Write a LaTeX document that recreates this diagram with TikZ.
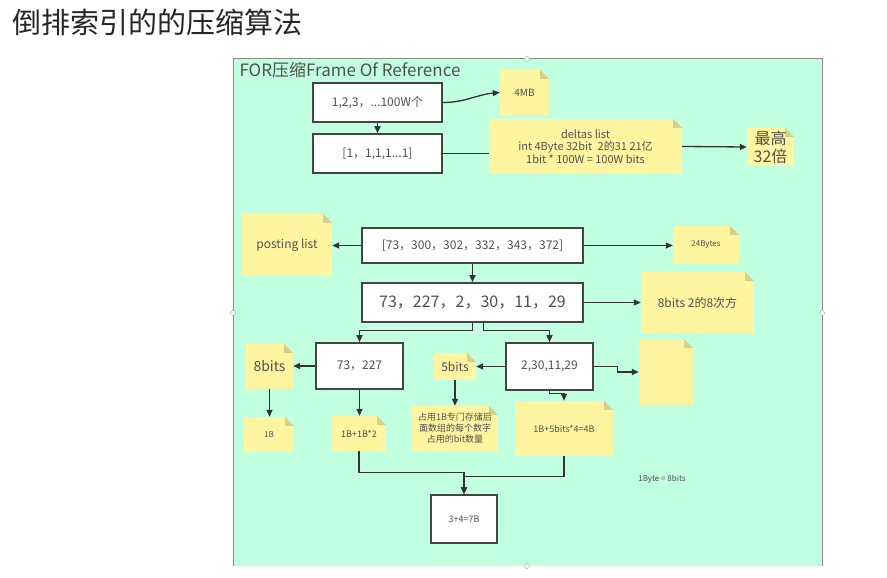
\documentclass[tikz,border=0pt]{standalone}
\usepackage{fontspec}
\setmainfont{Noto Sans CJK SC}
\usetikzlibrary{arrows.meta}

\definecolor{panelbg}{RGB}{192,255,224}
\definecolor{notebg}{RGB}{255,245,160}
\definecolor{notefold}{RGB}{216,207,138}
\definecolor{boxline}{RGB}{68,68,68}
\definecolor{txt}{RGB}{80,80,80}

\tikzset{
  box/.style={draw=boxline, line width=1.6pt, fill=white, inner sep=0pt,
    align=center, text=txt},
  note/.style={fill=notebg, inner sep=0pt, align=center, text=txt,
    path picture={
      \fill[panelbg] (path picture bounding box.north east)
        -- ++(-9pt,0pt) -- ++(9pt,-9pt) -- cycle;
      \fill[notefold] (path picture bounding box.north east)
        ++(-9pt,0pt) -- ++(0pt,-9pt) -- ++(9pt,0pt) -- cycle;
    }},
  arr/.style={draw=black!80, line width=1.3pt,
    -{Triangle[length=7pt,width=6pt]}},
  line/.style={draw=black!80, line width=1.3pt},
  fs/.style={font=\fontsize{#1}{#1}\selectfont}
}

\begin{document}
\begin{tikzpicture}[x=1pt,y=-1pt]
\useasboundingbox (0,0) rectangle (887,578);

% title
\node[anchor=west, fs=29, text=black!85] (title) at (9,22) {倒排索引的的压缩算法};

% panel
\fill[panelbg] (233,59) rectangle (822,566);
\draw[black!45, line width=1pt] (233,566) |- (822,59) -- (822,566);
\foreach \p in {(527,59),(233,313),(822,313),(527,566)}
  \draw[black!40, fill=white] \p circle (2.5);
\node[anchor=west, fs=17, text=txt] (frame) at (236,70) {FOR压缩Frame Of Reference};

% top part
\node[box, minimum width=129, minimum height=39, fs=12] (A) at (377.5,102.5) {1,2,3，...100W个};
\node[box, minimum width=129, minimum height=39, fs=12] (B) at (377.5,153.5) {[1，1,1,1...1]};
\node[note, minimum width=49, minimum height=45, fs=10] (mb) at (524.5,92.5) {4MB};
\node[note, minimum width=193, minimum height=55, fs=11] (deltas) at (585.5,146.5)
  {deltas list\\[1pt]int 4Byte 32bit\enspace 2的31 21亿\\[1pt]1bit * 100W = 100W bits};
\node[note, minimum width=47, minimum height=38, fs=16] (max) at (770.5,147) {最高\\[2pt]32倍};

\draw[arr] (A.south) -- (B.north);
\draw[arr] (A.east) to[out=0,in=185] (mb.west);
\draw[line] (B.east) -- (B.east -| deltas.west);
\draw[arr] (deltas.east) -- (max.west);

% middle part
\node[box, minimum width=221, minimum height=35, fs=12] (C) at (472.5,245.5) {[73，300，302，332，343，372]};
\node[box, minimum width=221, minimum height=39, fs=16] (D) at (472.5,302.5) {73，227，2，30，11，29};
\node[note, minimum width=90, minimum height=62, fs=12] (post) at (287,245) {posting list};
\node[note, minimum width=66, minimum height=38, fs=8] (bytes) at (706,245) {24Bytes};
\node[note, minimum width=113, minimum height=61, fs=12] (pow) at (697.5,302.5) {8bits 2的8次方};

\draw[arr] (C.west) -- (C.west -| post.east);
\draw[arr] (C.east) -- (C.east -| bytes.west);
\draw[arr] (C.south) -- (D.north);
\draw[arr] (D.east) -- (D.east -| pow.west);

% bottom part
\node[box, minimum width=87, minimum height=46, fs=12] (E) at (359.5,366) {73，227};
\node[box, minimum width=87, minimum height=47, fs=12] (F) at (549.5,366.5) {2,30,11,29};
\node[box, minimum width=66, minimum height=48, fs=9] (G) at (464,519) {3+4=7B};
\node[note, minimum width=47, minimum height=45, fs=14] (eight) at (269.5,366.5) {8bits};
\node[note, minimum width=50, minimum height=35, fs=8] (one) at (269,434.5) {1B};
\node[note, minimum width=54, minimum height=35, fs=9] (onetwo) at (359,433.5) {1B+1B*2};
\node[note, minimum width=42, minimum height=27, fs=12] (five) at (455,366.5) {5bits};
\node[note, minimum width=86, minimum height=45, fs=9] (use) at (455,428.5)
  {占用1B专门存储后\\[2pt]面数组的每个数字\\[2pt]占用的bit数量};
\node[note, minimum width=98, minimum height=55, fs=9] (four) at (564,428.5) {1B+5bits*4=4B};
\node[note, minimum width=54, minimum height=66] (empty) at (666,372) {};
\node[fs=8, text=txt] (eq) at (662,479) {1Byte = 8bits};

\draw[arr] (D.south) -- ++(0,8) -| (E.north);
\draw[arr] ([xshift=11pt]D.south) -- ++(0,8) -| (F.north);
\draw[arr] (E.west) -- (E.west -| eight.east);
\draw[arr] (eight.south) -- (eight.south |- one.north);
\draw[arr] (E.south) -- (E.south |- onetwo.north);
\draw[arr] (F.west) -- (F.west -| five.east);
\draw[arr] (five.south) -- (use.north);
\draw[arr] (F.south) -- ++(0,3) -| (four.north);
\draw[arr] (F.east) -- ++(24,0) |- (empty.west);
\draw[arr] (onetwo.south) -- ++(0,21) -| (G.north);
\draw[arr] (four.south) -- ++(0,20) -| (G.north);

\end{tikzpicture}
\end{document}
